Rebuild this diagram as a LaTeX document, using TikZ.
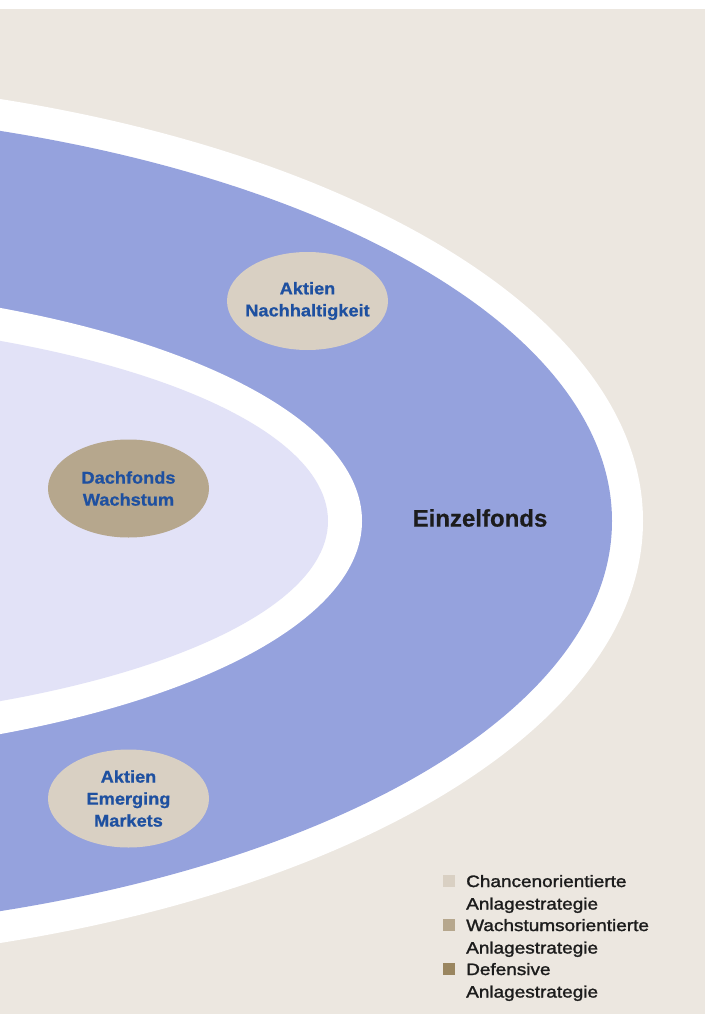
\documentclass[tikz,border=0pt]{standalone}
\usepackage{fontspec}
\setmainfont{Liberation Sans}
\newfontfamily\fundfont[FakeStretch=1.07,FakeBold=0.8]{Liberation Sans Bold}
\newfontfamily\ringfont[FakeBold=0.5]{Liberation Sans Bold}
\newfontfamily\legendfont[FakeStretch=1.15,FakeBold=1.6]{Liberation Sans}
\definecolor{paper}{HTML}{ECE7E0}
\definecolor{ringblue}{HTML}{95A2DD}
\definecolor{corelilac}{HTML}{E2E2F7}
\definecolor{chance}{HTML}{D9D0C3}
\definecolor{growth}{HTML}{B6A78D}
\definecolor{defensive}{HTML}{9A8660}
\definecolor{fundtext}{HTML}{1E50A0}
\definecolor{darktext}{HTML}{1C1C1C}
\usetikzlibrary{shapes.geometric}
\tikzset{
  fund/.style={ellipse, minimum width=161pt, minimum height=98pt,
    inner xsep=-20pt, inner ysep=-10pt,
    align=center, text=fundtext, font=\fundfont\fontsize{17}{22}\selectfont},
  swatch/.style={rectangle, minimum size=12pt, inner sep=0pt, anchor=south west},
  legendtext/.style={anchor=base west, inner sep=0pt, text=darktext,
    font=\legendfont\fontsize{16.5}{22.5}\selectfont}
}
\begin{document}
\begin{tikzpicture}[x=1pt,y=-1pt]
  \useasboundingbox (0,0) rectangle (705,1014);
  \fill[white] (0,0) rectangle (705,1014);
  \begin{scope}
    \clip (0,9) rectangle (705,1014);
    \fill[paper] (0,9) rectangle (705,1014);
    % concentric rings around a centre left of the page
    \coordinate (hub) at (-300,521);
    \fill[white]     (hub) ellipse [x radius=943, y radius=445];
    \fill[ringblue]  (hub) ellipse [x radius=912, y radius=413];
    \fill[white]     (hub) ellipse [x radius=662, y radius=239];
    \fill[corelilac] (hub) ellipse [x radius=628, y radius=205];
  \end{scope}

  \node[fund, fill=chance] (nachhaltig) at (307.5,301) {Aktien\\Nachhaltigkeit};
  \node[fund, fill=growth] (dachfonds) at (128.5,488.5) {Dachfonds\\Wachstum};
  \node[fund, fill=chance] (emerging) at (128.5,798.5) {Aktien\\Emerging\\Markets};

  \node[text=darktext, font=\ringfont\fontsize{24}{28}\selectfont, inner sep=0pt]
    (einzel) at (480,518) {Einzelfonds};

  % legend
  \node[swatch, fill=chance]    (sw1) at (443,887) {};
  \node[swatch, fill=growth]    (sw2) at (443,931) {};
  \node[swatch, fill=defensive] (sw3) at (443,975) {};
  \node[legendtext] (lg1) at (466,887)
    {\begin{tabular}[t]{@{}l@{}}Chancenorientierte\\Anlagestrategie\end{tabular}};
  \node[legendtext] (lg2) at (466,931)
    {\begin{tabular}[t]{@{}l@{}}Wachstumsorientierte\\Anlagestrategie\end{tabular}};
  \node[legendtext] (lg3) at (466,975)
    {\begin{tabular}[t]{@{}l@{}}Defensive\\Anlagestrategie\end{tabular}};
\end{tikzpicture}
\end{document}
